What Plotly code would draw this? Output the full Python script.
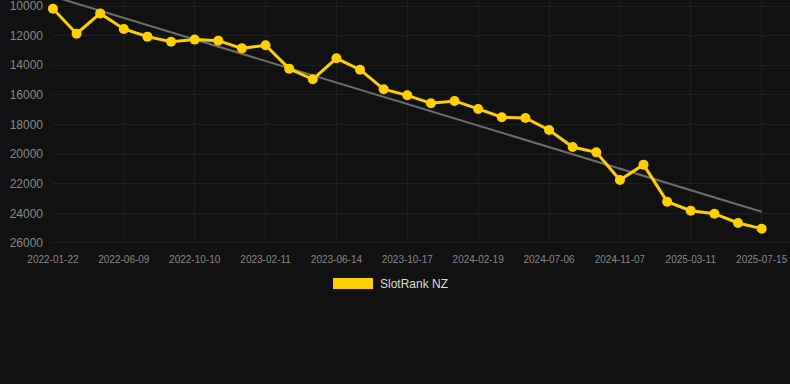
import plotly.graph_objects as go

dates = [
    "2022-01-22", "2022-03-08", "2022-04-23",
    "2022-06-09", "2022-07-20", "2022-08-30",
    "2022-10-10", "2022-11-20", "2022-12-31",
    "2023-02-11", "2023-03-24", "2023-05-04",
    "2023-06-14", "2023-07-26", "2023-09-05",
    "2023-10-17", "2023-11-28", "2024-01-08",
    "2024-02-19", "2024-04-04", "2024-05-20",
    "2024-07-06", "2024-08-16", "2024-09-26",
    "2024-11-07", "2024-12-18", "2025-01-28",
    "2025-03-11", "2025-04-21", "2025-06-02",
    "2025-07-15",
]
ranks = [
    10180, 11870, 10500, 11550, 12070, 12410, 12270, 12340, 12860, 12650,
    14230, 14950, 13530, 14300, 15620, 16030, 16570, 16410, 16950, 17510,
    17560, 18370, 19520, 19880, 21745, 20710, 23210, 23820, 24020, 24650,
    25030,
]
trend_dates = [dates[0], dates[-1]]
trend_values = [9350, 23890]
tick_labels = dates[::3]
y_ticks = [10000, 12000, 14000, 16000, 18000, 20000, 22000, 24000, 26000]
series_name = "SlotRank NZ"

BG = "#111111"
YELLOW = "#FFD000"
GRID = "#1d1d1d"
font_family = "Arial, Liberation Sans, sans-serif"

fig = go.Figure()
fig.add_trace(go.Scatter(
    x=trend_dates, y=trend_values, mode="lines",
    line=dict(color="#6e6e6e", width=2), showlegend=False, hoverinfo="skip",
))
fig.add_trace(go.Scatter(
    x=dates, y=ranks, mode="lines+markers", name=series_name,
    line=dict(color=YELLOW, width=3),
    marker=dict(color=YELLOW, size=10),
    showlegend=False, cliponaxis=False,
))

# legend drawn manually
fig.add_shape(type="rect", xref="paper", yref="paper",
              x0=(333 - 52) / 738, x1=(373 - 52) / 738,
              y0=(243 - 289) / 243, y1=(243 - 278) / 243,
              fillcolor=YELLOW, line=dict(width=0))
fig.add_annotation(xref="paper", yref="paper",
                   x=(378 - 52) / 738, y=(243 - 284) / 243,
                   xanchor="left", yanchor="middle", showarrow=False,
                   text=series_name, font=dict(color="#dddddd", size=12, family=font_family))

fig.update_layout(
    width=790, height=384,
    margin=dict(l=52, r=0, t=0, b=141),
    paper_bgcolor=BG, plot_bgcolor=BG,
    font=dict(family=font_family, color="#888888"),
    showlegend=False,
)
fig.update_xaxes(
    type="category", categoryorder="array", categoryarray=dates,
    range=[-0.04, 31.2],
    tickmode="array", tickvals=tick_labels, ticktext=tick_labels,
    tickfont=dict(size=10, color="#888888"),
    showgrid=True, gridcolor=GRID, gridwidth=1,
    showline=False, zeroline=False, ticks="", ticklabelstandoff=9,
    ticklabeloverflow="allow",
)
fig.update_yaxes(
    range=[26000, 9595],
    tickmode="array", tickvals=y_ticks, ticktext=[str(v) for v in y_ticks],
    tickfont=dict(size=12, color="#888888"),
    showgrid=True, gridcolor=GRID, gridwidth=1,
    zeroline=False, showline=False, ticks="", ticklabelstandoff=8,
    ticklabeloverflow="allow",
)
fig.add_shape(type="line", xref="paper", yref="y", x0=0, x1=1, y0=26000, y1=26000,
              line=dict(color="#2e2e2e", width=1))

fig.write_html(
    "out.html",
    config={"displayModeBar": False},
    post_script="document.body.style.margin='0';document.body.style.overflow='hidden';document.body.style.background='#111111';",
)
